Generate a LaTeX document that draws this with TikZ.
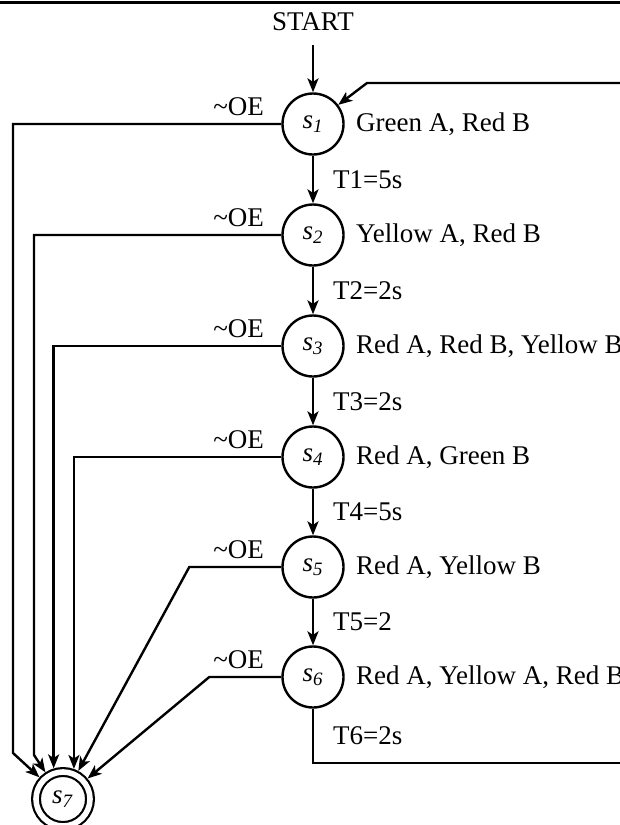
\documentclass[tikz,border=0pt]{standalone}
\usepackage{fontspec}
\setmainfont{Liberation Serif}
\usetikzlibrary{arrows.meta,positioning}
\newcommand{\stname}[1]{\textit{s}\textsubscript{\textit{#1}}}
\tikzset{
    state/.style={draw, circle, line width=1.2pt, minimum size=30.5pt, inner sep=0pt},
    final/.style={draw, circle, line width=1.1pt, double, double distance=2.8pt,
        minimum size=27pt, inner sep=0pt, outer sep=2.5pt},
    trans/.style={-{Stealth[length=7pt,width=5.5pt,inset=1.8pt]}, line width=1.2pt},
    wire/.style={line width=1.2pt},
    desc/.style={anchor=west, inner sep=0pt},
    tlab/.style={anchor=west, inner sep=0pt, xshift=9.5pt},
    oelab/.style={inner sep=0pt},
}

\begin{document}
\begin{tikzpicture}[x=0.5pt, y=-0.5pt, font=\fontsize{13.5pt}{15pt}\selectfont]
    \useasboundingbox (0,0) rectangle (620,825);
    \draw[line width=1.5pt] (0,2) -- (620,2);
    \node[inner sep=0pt] (start) at (313,22) {START};
    \node[state] (s1) at (313,124) {\stname{1}};
    \node[state] (s2) at (313,235) {\stname{2}};
    \node[state] (s3) at (313,346) {\stname{3}};
    \node[state] (s4) at (313,457) {\stname{4}};
    \node[state] (s5) at (313,567) {\stname{5}};
    \node[state] (s6) at (313,677) {\stname{6}};
    \node[final] (s7) at (63,799) {\stname{7}};
    \node[desc, right=5.5pt of s1] (d1) {Green A, Red B};
    \node[desc, right=5.5pt of s2] (d2) {Yellow A, Red B};
    \node[desc, right=5.5pt of s3] (d3) {Red A, Red B, Yellow B};
    \node[desc, right=5.5pt of s4] (d4) {Red A, Green B};
    \node[desc, right=5.5pt of s5] (d5) {Red A, Yellow B};
    \node[desc, right=5.5pt of s6] (d6) {Red A, Yellow A, Red B};
    \node[oelab, above left=4pt and 8.5pt of s1.west] (oe1) {\textasciitilde OE};
    \node[oelab, above left=4pt and 8.5pt of s2.west] (oe2) {\textasciitilde OE};
    \node[oelab, above left=4pt and 8.5pt of s3.west] (oe3) {\textasciitilde OE};
    \node[oelab, above left=4pt and 8.5pt of s4.west] (oe4) {\textasciitilde OE};
    \node[oelab, above left=4pt and 8.5pt of s5.west] (oe5) {\textasciitilde OE};
    \node[oelab, above left=4pt and 8.5pt of s6.west] (oe6) {\textasciitilde OE};
    \coordinate (k0) at (367,83);
    \coordinate (r0) at (625,83);
    \coordinate (r1) at (625,763);
    \coordinate (k1) at (13,753);
    \coordinate (k2) at (34,755);
    \draw[trans, shorten <=7pt] (start) -- (s1);
    \draw[trans] (s1) -- node[tlab] (t1) {T1=5s} (s2);
    \draw[trans] (s2) -- node[tlab] (t2) {T2=2s} (s3);
    \draw[trans] (s3) -- node[tlab] (t3) {T3=2s} (s4);
    \draw[trans] (s4) -- node[tlab] (t4) {T4=5s} (s5);
    \draw[trans] (s5) -- node[tlab] (t5) {T5=2} (s6);
    \draw[wire] (s6.south) |- node[tlab, pos=0.25] (t6) {T6=2s} (r1);
    \draw[trans] (r0) -- (k0) -- (s1);
    % ~OE exits into s7
    \draw[trans] (s1.west) -| (k1) -- (s7);
    \draw[trans] (s2.west) -| (k2) -- (s7);
    \draw[trans] (s3.west) -| (s7.107);
    \draw[trans] (s4.west) -| (s7.70);
    \draw[trans] (s5.west) -- ++(-92,0) -- (s7);
    \draw[trans] (s6.west) -- ++(-72,0) -- (s7);
\end{tikzpicture}
\end{document}
